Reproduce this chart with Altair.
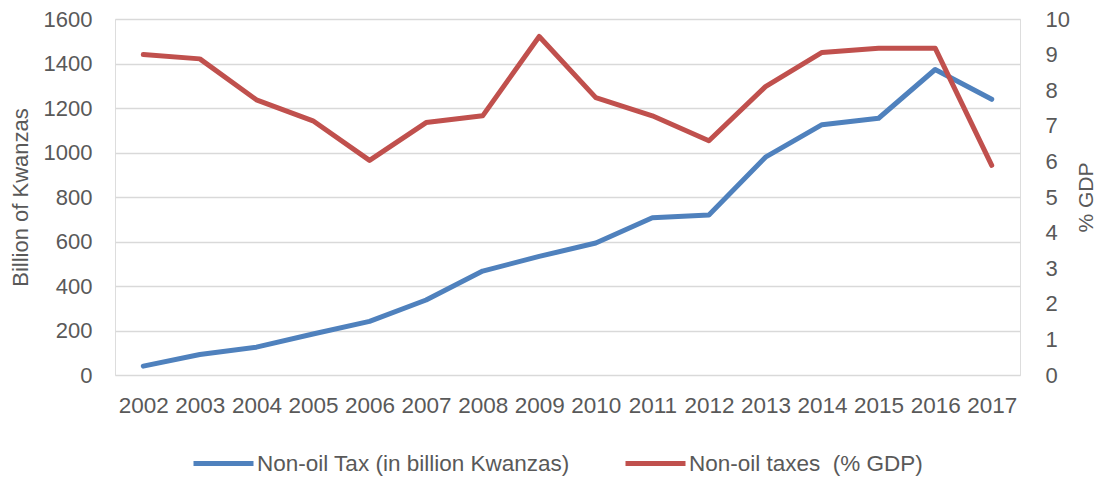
import altair as alt
import pandas as pd

years = [str(y) for y in range(2002, 2018)]
tax_bn = [40, 92, 125, 184, 241, 337, 467, 533, 593, 707, 719, 979, 1125, 1154, 1373, 1239]
tax_gdp = [9.0, 8.88, 7.73, 7.14, 6.03, 7.09, 7.28, 9.51, 7.79, 7.28, 6.58, 8.10, 9.06, 9.18, 9.18, 5.89]

s1 = "Non-oil Tax (in billion Kwanzas)"
s2 = "Non-oil taxes \u00a0(% GDP)"

df1 = pd.DataFrame({"year": years, "value": tax_bn, "series": s1})
df2 = pd.DataFrame({"year": years, "pct": tax_gdp, "series": s2})

FONT = "Liberation Sans"
GREY = "#595959"

color = alt.Color(
    "series:N",
    scale=alt.Scale(domain=[s1, s2], range=["#4F81BD", "#C0504D"]),
    legend=alt.Legend(
        title=None, orient="none", direction="horizontal",
        legendX=76, legendY=412,
        symbolType="stroke", symbolSize=3600, symbolStrokeWidth=5,
        labelFont=FONT, labelFontSize=22.5, labelColor=GREY,
        labelOffset=1, columnPadding=45, labelLimit=500,
    ),
)

x = alt.X(
    "year:O", sort=years, title=None,
    scale=alt.Scale(type="point", padding=0.5),
    axis=alt.Axis(labelAngle=0, labelFont=FONT, labelFontSize=22.5, labelColor=GREY,
                  ticks=False, domain=False, labelPadding=19, labelOverlap=False),
)

left = alt.Chart(df1).mark_line(strokeWidth=5, strokeJoin="round", strokeCap="round").encode(
    x=x,
    y=alt.Y("value:Q", scale=alt.Scale(domain=[0, 1600]),
            axis=alt.Axis(values=list(range(0, 1601, 200)), format="d", title="Billion of Kwanzas",
                          labelFont=FONT, labelFontSize=22, labelColor=GREY,
                          titleFont=FONT, titleFontSize=22, titleColor=GREY, titleFontWeight="normal",
                          titleAngle=270, titleX=-95, titleY=178, titleAlign="center", titleBaseline="middle",
                          ticks=False, domain=False, labelPadding=23,
                          grid=True, gridColor="#D9D9D9", gridWidth=1.5)),
    color=color,
)

right = alt.Chart(df2).mark_line(strokeWidth=5, strokeJoin="round", strokeCap="round").encode(
    x=x,
    y=alt.Y("pct:Q", scale=alt.Scale(domain=[0, 10]),
            axis=alt.Axis(orient="right", values=list(range(0, 11)), title="% GDP",
                          labelFont=FONT, labelFontSize=22, labelColor=GREY, labelAlign="left",
                          titleFont=FONT, titleFontSize=21, titleColor=GREY, titleFontWeight="normal",
                          titleAngle=270, titleX=66, titleY=178, titleAlign="center", titleBaseline="middle",
                          ticks=False, domain=False, labelPadding=25, grid=False)),
    color=color,
)

chart = alt.layer(left, right).resolve_scale(y="independent").properties(
    width=905, height=356,
    autosize=alt.AutoSizeParams(type="none"),
    padding={"left": 107, "top": 11, "right": 78, "bottom": 102},
).configure_view(stroke=None).configure(background="white")

chart.save("out.html", embed_options={"renderer": "svg", "actions": False})
